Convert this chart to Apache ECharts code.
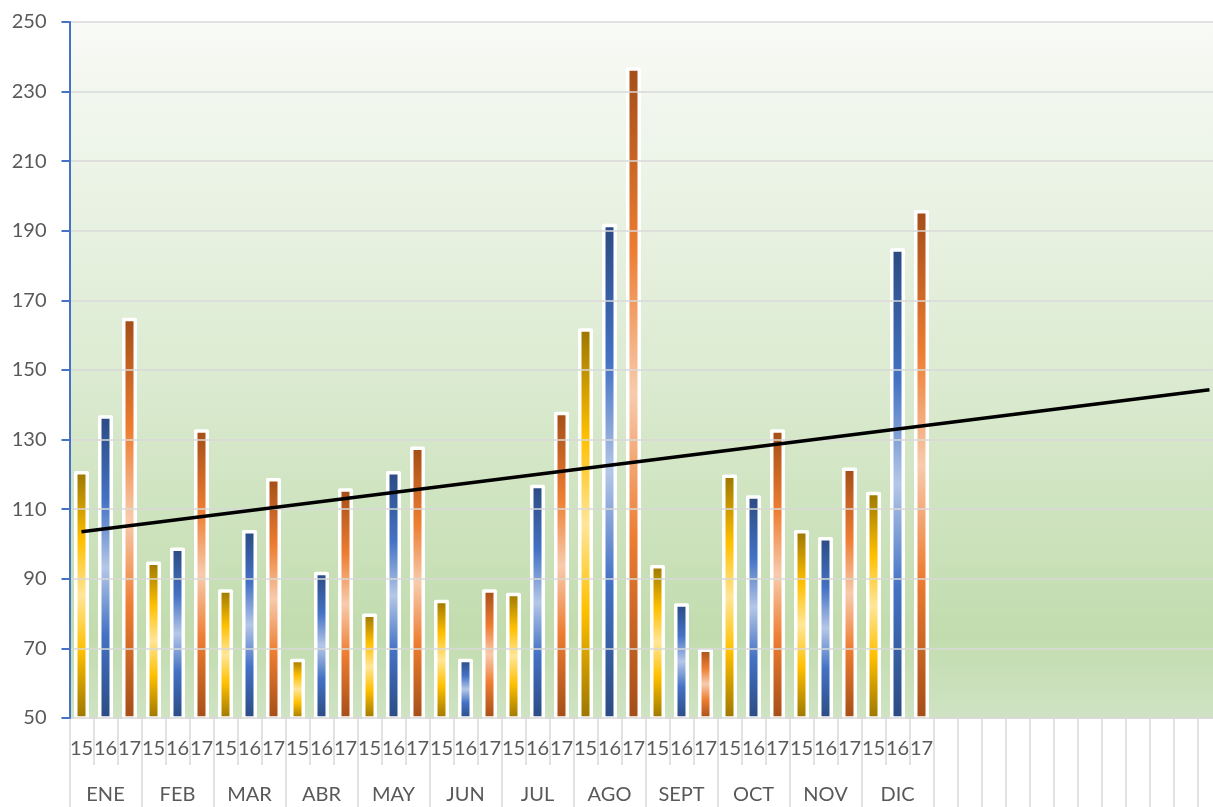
<!DOCTYPE html>
<html><head><meta charset="utf-8">
<script src="https://cdn.jsdelivr.net/npm/echarts@6/dist/echarts.min.js"></script>
<style>html,body{margin:0;padding:0;background:#fff}#c{width:1213px;height:807px}</style>
</head><body><div id="c"></div>
<script>
const months = ['ENE','FEB','MAR','ABR','MAY','JUN','JUL','AGO','SEPT','OCT','NOV','DIC'];
const years = ['15','16','17'];
const v15 = [121,95,87,67,80,84,86,162,94,120,104,115];
const v16 = [137,99,104,92,121,67,117,192,83,114,102,185];
const v17 = [165,133,119,116,128,87,138,237,70,133,122,196];
const emptyCount = 12;
const trendStart = 103.5;
const trendEnd = 144.3;
const yMin = 50, yMax = 250, yStep = 20;

const yearLabels = [], monthLabels = [];
months.forEach(m => { years.forEach((y, k) => { yearLabels.push(y); monthLabels.push(k === 1 ? m : ''); }); });
for (let i = 0; i < emptyCount; i++) { yearLabels.push(''); monthLabels.push(''); }
const n = yearLabels.length;
const seriesVals = [v15, v16, v17];
function buildData(k) {
  const arr = new Array(n).fill(null);
  seriesVals[k].forEach((v, m) => { arr[m * 3 + k] = v; });
  return arr;
}
function grad(dark, mid, pale) {
  return {type: 'linear', x: 0, y: 0, x2: 0, y2: 1, colorStops: [
    {offset: 0, color: dark}, {offset: 0.28, color: mid}, {offset: 0.5, color: pale},
    {offset: 0.72, color: mid}, {offset: 1, color: dark}]};
}
const barColors = [
  grad('#9a7500', '#ffc000', '#ffe699'),
  grad('#2b4a82', '#4472c4', '#b4c7e7'),
  grad('#a34d17', '#ed7d31', '#f8cbad')
];
const font = 'Lato, "Noto Sans", sans-serif';
const chart = echarts.init(document.getElementById('c'));
chart.setOption({
  animation: false,
  grid: {
    left: 69.5, top: 22, width: n * 24, height: 696, show: true, borderWidth: 0,
    outerBoundsMode: 'none', containLabel: false,
    backgroundColor: {type: 'linear', x: 0, y: 0, x2: 0, y2: 1, colorStops: [
      {offset: 0, color: '#f8faf6'}, {offset: 0.5, color: '#dcebd2'},
      {offset: 0.88, color: '#c2dcae'}, {offset: 1, color: '#cfe3c3'}]}
  },
  xAxis: [{
    type: 'category', position: 'bottom', data: yearLabels,
    axisLine: {show: true, lineStyle: {color: '#d9d9d9', width: 1.5}},
    axisTick: {show: true, interval: 0, length: 47, lineStyle: {color: '#d9d9d9', width: 1.5}},
    axisLabel: {interval: 0, margin: 21, fontSize: 20, fontFamily: font, color: '#595959'},
    splitLine: {show: false}
  }, {
    type: 'category', position: 'bottom', offset: 0, data: monthLabels,
    axisLine: {show: false},
    axisTick: {show: true, length: 95, interval: (i) => (i < months.length * 3 ? i % 3 === 0 : true),
      lineStyle: {color: '#d9d9d9', width: 1.5}},
    axisLabel: {interval: 0, margin: 67, fontSize: 20, fontFamily: font, color: '#595959'},
    splitLine: {show: false}
  }],
  yAxis: {
    type: 'value', min: yMin, max: yMax, interval: yStep, z: 3,
    axisLine: {show: true, lineStyle: {color: '#4472c4', width: 2}},
    axisTick: {show: true, length: 8, lineStyle: {color: '#4472c4', width: 2}},
    axisLabel: {margin: 23, fontSize: 20, fontFamily: font, color: '#595959'},
    splitLine: {lineStyle: {color: '#d9d9d9', width: 1.5}}
  },
  series: [0, 1, 2].map(k => ({
    name: years[k], type: 'bar', data: buildData(k), barWidth: 15, barGap: '-100%',
    itemStyle: {color: barColors[k], borderColor: '#ffffff', borderWidth: 3.5, borderJoin: 'round'}
  })).concat([{
    name: 'trend', type: 'line', data: [[0, trendStart], [n - 1, trendEnd]],
    symbol: 'none', lineStyle: {color: '#000000', width: 3.5}, z: 5, silent: true
  }])
});
</script></body></html>
